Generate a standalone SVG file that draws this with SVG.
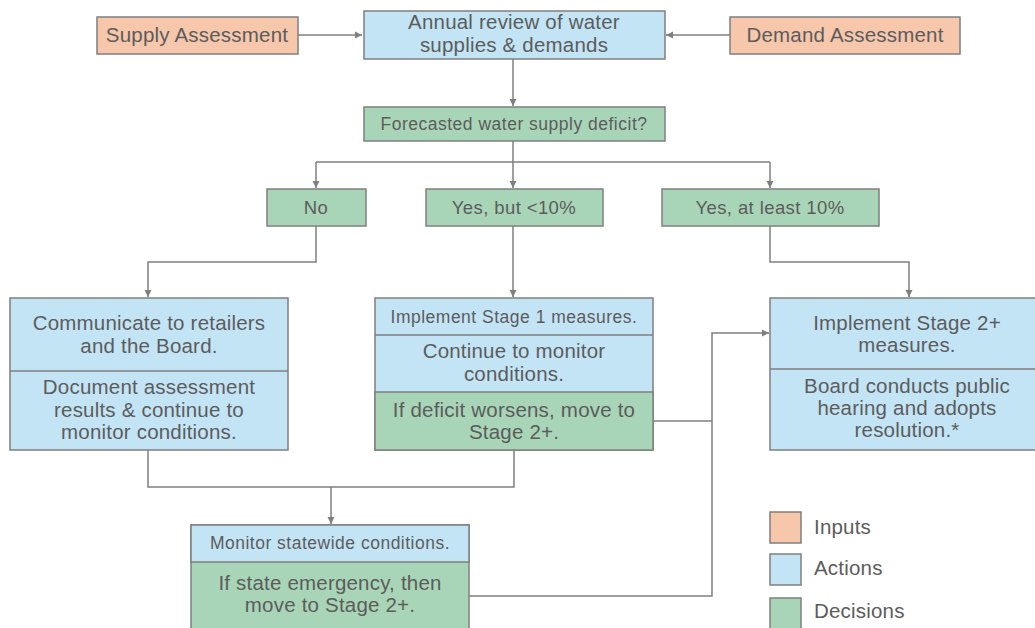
<svg xmlns="http://www.w3.org/2000/svg" width="1035" height="628" viewBox="0 0 1035 628">
<style>
.in{fill:#F6C7AB;stroke:#7f7f7f;stroke-width:1.5}
.ac{fill:#C3E4F5;stroke:#7f7f7f;stroke-width:1.5}
.de{fill:#A8D5B7;stroke:#7f7f7f;stroke-width:1.5}
text{font-family:"Liberation Sans",Arial,sans-serif;fill:#5c5c5c;text-anchor:middle;font-size:20.5px;letter-spacing:0.2px}
.s{font-size:17.5px;letter-spacing:0.5px}
.m{font-size:18.5px;letter-spacing:0.4px}
.lg{text-anchor:start}
.c{fill:none;stroke:#7f7f7f;stroke-width:1.5}
</style>
<defs>
<marker id="ah" markerWidth="8" markerHeight="8" refX="7" refY="4" orient="auto" markerUnits="userSpaceOnUse">
<path d="M0,0.5 L7,4 L0,7.5 Z" fill="#7f7f7f"/>
</marker>
</defs>
<rect width="1035" height="628" fill="#ffffff"/>
<g id="connectors">
<path class="c" d="M298,35 H362" marker-end="url(#ah)"/>
<path class="c" d="M730,35 H666" marker-end="url(#ah)"/>
<path class="c" d="M513,59 V106" marker-end="url(#ah)"/>
<path class="c" d="M513,141 V162"/>
<path class="c" d="M316,162 H770"/>
<path class="c" d="M316,162 V188" marker-end="url(#ah)"/>
<path class="c" d="M513,162 V188" marker-end="url(#ah)"/>
<path class="c" d="M770,162 V188" marker-end="url(#ah)"/>
<path class="c" d="M316,226 V262 H148 V297" marker-end="url(#ah)"/>
<path class="c" d="M513,226 V297" marker-end="url(#ah)"/>
<path class="c" d="M770,226 V262 H909 V297" marker-end="url(#ah)"/>
<path class="c" d="M148,450 V487 H514 V450"/>
<path class="c" d="M331,487 V524" marker-end="url(#ah)"/>
<path class="c" d="M653,421 H712"/>
<path class="c" d="M469,596 H712 V333 H769" marker-end="url(#ah)"/>
</g>
<g id="supply">
<rect class="in" x="97" y="17" width="201" height="37"/>
<text x="197" y="42">Supply Assessment</text>
</g>
<g id="annual">
<rect class="ac" x="364" y="11" width="301" height="48"/>
<text x="514" y="29">Annual review of water</text>
<text x="514" y="52">supplies &amp; demands</text>
</g>
<g id="demand">
<rect class="in" x="730" y="17" width="230" height="37"/>
<text x="845" y="42">Demand Assessment</text>
</g>
<g id="forecast">
<rect class="de" x="364" y="107" width="301" height="34"/>
<text class="s" x="514" y="130">Forecasted water supply deficit?</text>
</g>
<g id="no">
<rect class="de" x="267" y="189" width="99" height="37"/>
<text class="m" x="316" y="214">No</text>
</g>
<g id="yesbut">
<rect class="de" x="426" y="189" width="177" height="37"/>
<text class="m" x="514" y="214">Yes, but &lt;10%</text>
</g>
<g id="yesatleast">
<rect class="de" x="662" y="189" width="217" height="37"/>
<text class="m" x="770" y="214">Yes, at least 10%</text>
</g>
<g id="communicate">
<rect class="ac" x="10" y="298" width="278" height="152"/>
<line class="c" x1="10" y1="371" x2="288" y2="371"/>
<text x="149" y="330">Communicate to retailers</text>
<text x="149" y="353">and the Board.</text>
<text x="149" y="394">Document assessment</text>
<text x="149" y="417">results &amp; continue to</text>
<text x="149" y="439">monitor conditions.</text>
</g>
<g id="stage1">
<rect class="ac" x="375" y="298" width="278" height="152"/>
<rect class="de" x="375" y="392" width="278" height="58"/>
<line class="c" x1="375" y1="335" x2="653" y2="335"/>
<text class="s" x="514" y="323">Implement Stage 1 measures.</text>
<text x="514" y="358">Continue to monitor</text>
<text x="514" y="381">conditions.</text>
<text x="514" y="417">If deficit worsens, move to</text>
<text x="514" y="439">Stage 2+.</text>
</g>
<g id="stage2">
<rect class="ac" x="770" y="298" width="270" height="152"/>
<line class="c" x1="770" y1="369" x2="1035" y2="369"/>
<text x="907" y="330">Implement Stage 2+</text>
<text x="907" y="352">measures.</text>
<text x="907" y="393">Board conducts public</text>
<text x="907" y="415">hearing and adopts</text>
<text x="907" y="437">resolution.*</text>
</g>
<g id="monitor">
<rect class="de" x="191" y="525" width="278" height="110"/>
<rect class="ac" x="191" y="525" width="278" height="37"/>
<text class="s" x="330" y="549">Monitor statewide conditions.</text>
<text x="330" y="590">If state emergency, then</text>
<text x="330" y="612">move to Stage 2+.</text>
</g>
<g id="legend">
<rect class="in" x="770" y="512" width="31" height="31"/>
<text class="lg" x="814" y="534">Inputs</text>
<rect class="ac" x="770" y="554" width="31" height="31"/>
<text class="lg" x="814" y="575">Actions</text>
<rect class="de" x="770" y="598" width="31" height="31"/>
<text class="lg" x="814" y="618">Decisions</text>
</g>
</svg>
